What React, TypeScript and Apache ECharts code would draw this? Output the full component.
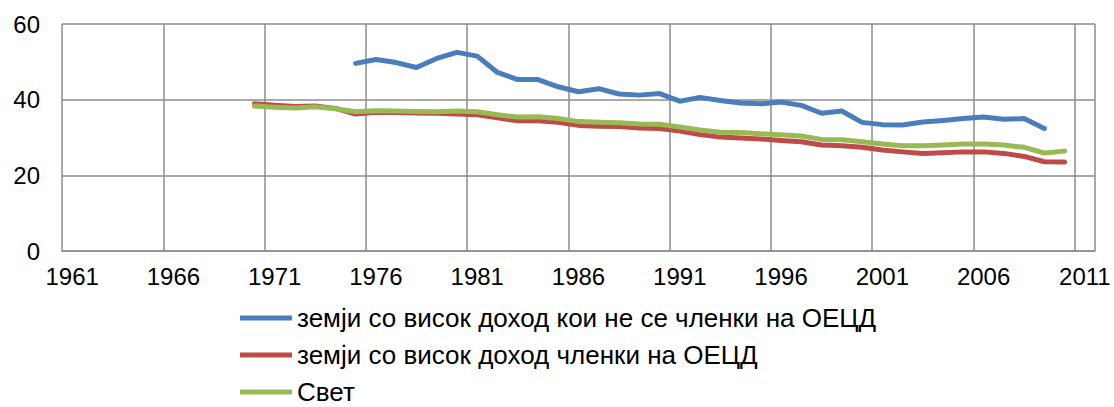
import React, { useEffect, useRef } from "react";
import * as echarts from "echarts";

const years = [
  "1961", "1962", "1963", "1964", "1965", "1966", "1967", "1968", "1969", "1970",
  "1971", "1972", "1973", "1974", "1975", "1976", "1977", "1978", "1979", "1980",
  "1981", "1982", "1983", "1984", "1985", "1986", "1987", "1988", "1989", "1990",
  "1991", "1992", "1993", "1994", "1995", "1996", "1997", "1998", "1999", "2000",
  "2001", "2002", "2003", "2004", "2005", "2006", "2007", "2008", "2009", "2010",
  "2011",
];

const seriesNames = [
  "земји со висок доход кои не се членки на ОЕЦД",
  "земји со висок доход членки на ОЕЦД",
  "Свет",
];

// 1961–2011
const nonOecd = [
  null, null, null, null, null, null, null, null, null, null,
  null, null, null, null, 49.6, 50.6, 49.8, 48.5, 50.9, 52.5,
  51.5, 47.2, 45.3, 45.3, 43.4, 42.1, 42.9, 41.5, 41.2, 41.6,
  39.6, 40.6, 39.8, 39.1, 38.9, 39.4, 38.5, 36.4, 37.0, 34.0,
  33.4, 33.3, 34.1, 34.5, 35.0, 35.4, 34.8, 35.0, 32.4, null,
  null,
];

const oecd = [
  null, null, null, null, null, null, null, null, null, 38.9,
  38.5, 38.2, 38.3, 37.7, 36.2, 36.7, 36.6, 36.5, 36.4, 36.2,
  36.0, 35.2, 34.4, 34.4, 34.0, 33.2, 33.0, 32.9, 32.5, 32.4,
  31.7, 30.8, 30.1, 29.9, 29.6, 29.2, 28.9, 28.0, 27.8, 27.4,
  26.7, 26.2, 25.8, 26.0, 26.2, 26.2, 25.8, 25.0, 23.6, 23.5,
  null,
];

const world = [
  null, null, null, null, null, null, null, null, null, 38.3,
  38.0, 37.8, 38.1, 37.6, 36.8, 37.1, 37.0, 36.9, 36.8, 37.0,
  36.8, 36.0, 35.4, 35.5, 35.0, 34.2, 34.0, 33.9, 33.6, 33.5,
  32.8, 32.0, 31.4, 31.3, 31.0, 30.7, 30.4, 29.5, 29.4, 28.9,
  28.3, 27.8, 27.8, 28.0, 28.3, 28.3, 28.0, 27.4, 25.9, 26.4,
  null,
];

const colors = ["#4A7EBB", "#BE4B48", "#98B954"];
const FONT = "'Liberation Sans', Arial, sans-serif";
const GRID = "#8C8C8C";

export default function App() {
  const ref = useRef<HTMLDivElement>(null);

  useEffect(() => {
    document.body.style.margin = "0";
    const chart = echarts.init(ref.current!, undefined, { renderer: "svg" });
    const mk = (name: string, data: (number | null)[], color: string) => ({
      name,
      type: "line",
      data,
      symbol: "none",
      showSymbol: false,
      connectNulls: false,
      lineStyle: { color, width: 5, cap: "round", join: "round" },
      itemStyle: { color },
    });
    chart.setOption({
      animation: false,
      textStyle: { fontFamily: FONT },
      grid: { left: 62, right: 19, top: 24, bottom: 156, containLabel: false },
      xAxis: {
        type: "category",
        data: years,
        boundaryGap: true,
        axisLine: { show: true, lineStyle: { color: GRID, width: 1.5 } },
        axisTick: { show: false },
        axisLabel: {
          interval: 4,
          color: "#000",
          fontSize: 24,
          fontFamily: FONT,
          margin: 13,
        },
        splitLine: {
          show: true,
          interval: 4,
          lineStyle: { color: GRID, width: 1.5 },
        },
      },
      yAxis: {
        type: "value",
        min: 0,
        max: 60,
        interval: 20,
        axisLine: { show: false },
        axisTick: { show: false },
        axisLabel: { color: "#000", fontSize: 24, fontFamily: FONT, margin: 22 },
        splitLine: { show: true, lineStyle: { color: GRID, width: 1.5 } },
      },
      legend: {
        orient: "vertical",
        left: 240,
        top: 305,
        height: 102,
        padding: 0,
        itemWidth: 52,
        itemHeight: 5,
        itemGap: 11,
        icon: "rect",
        textStyle: { color: "#000", fontSize: 26, fontFamily: FONT },
        data: seriesNames,
      },
      series: [
        mk(seriesNames[0], nonOecd, colors[0]),
        mk(seriesNames[1], oecd, colors[1]),
        mk(seriesNames[2], world, colors[2]),
      ],
    });
    return () => chart.dispose();
  }, []);

  return <div ref={ref} style={{ width: 1114, height: 407 }} />;
}
